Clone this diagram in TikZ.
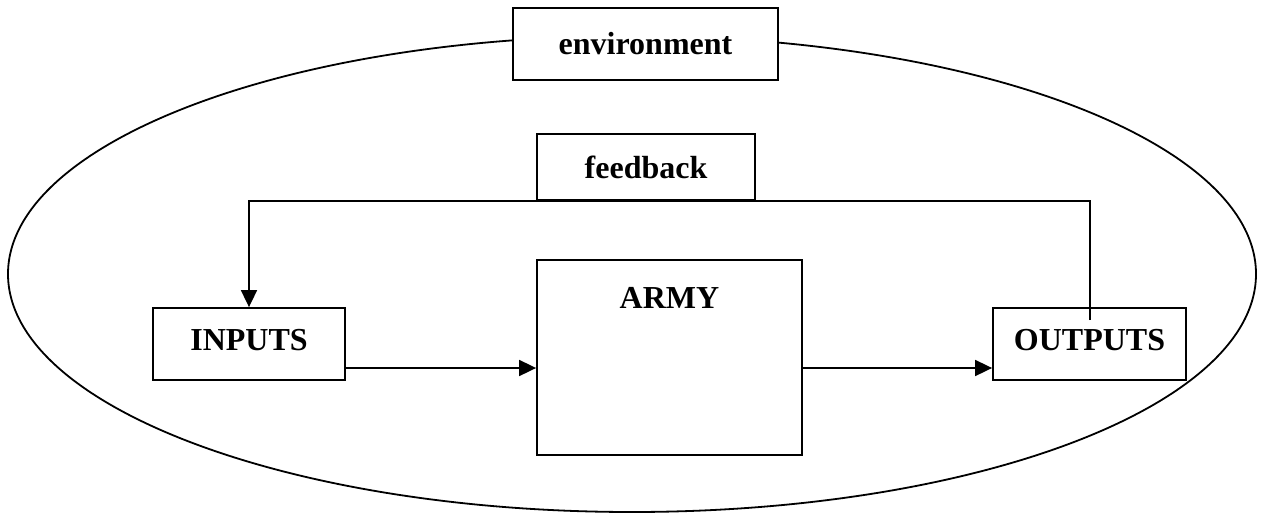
\documentclass[tikz,border=0pt]{standalone}
\usepackage{fontspec}
\setmainfont{Liberation Serif}
\usetikzlibrary{arrows.meta}
\begin{document}
\begin{tikzpicture}[x=1pt,y=-1pt,
  box/.style={draw,line width=1.8pt,fill=white,inner sep=0pt,
    font=\fontsize{32}{38}\selectfont\bfseries},
  lbl/.style={font=\fontsize{32}{38}\selectfont\bfseries},
  conn/.style={line width=1.8pt},
  arr/.style={conn,-{Triangle[length=17pt,width=16pt]}}]
\useasboundingbox (0,0) rectangle (1261,517);
\draw[line width=1.8pt] (632,274) ellipse [x radius=624, y radius=238];
\node[box,minimum width=265pt,minimum height=72pt] (env) at (645.5,44) {environment};
\node[box,minimum width=218pt,minimum height=66pt] (fb) at (646,167) {feedback};
\node[box,minimum width=192pt,minimum height=72pt] (in) at (249,344) {};
\node[lbl] (intext) at (249,340) {INPUTS};
\node[box,minimum width=265pt,minimum height=195pt] (army) at (669.5,357.5) {};
\node[lbl] (armytext) at (669.5,298) {ARMY};
\node[box,minimum width=193pt,minimum height=72pt] (out) at (1089.5,344) {};
\node[lbl] (outtext) at (1089.5,340) {OUTPUTS};
\coordinate (fbend) at (1090,320);
\draw[arr] (fbend) -- (fbend |- fb.south) -- (in.north |- fb.south) -- (in.north);
\draw[arr] (in.east |- 0,368) -- (army.west |- 0,368);
\draw[arr] (army.east |- 0,368) -- (out.west |- 0,368);
\end{tikzpicture}
\end{document}
